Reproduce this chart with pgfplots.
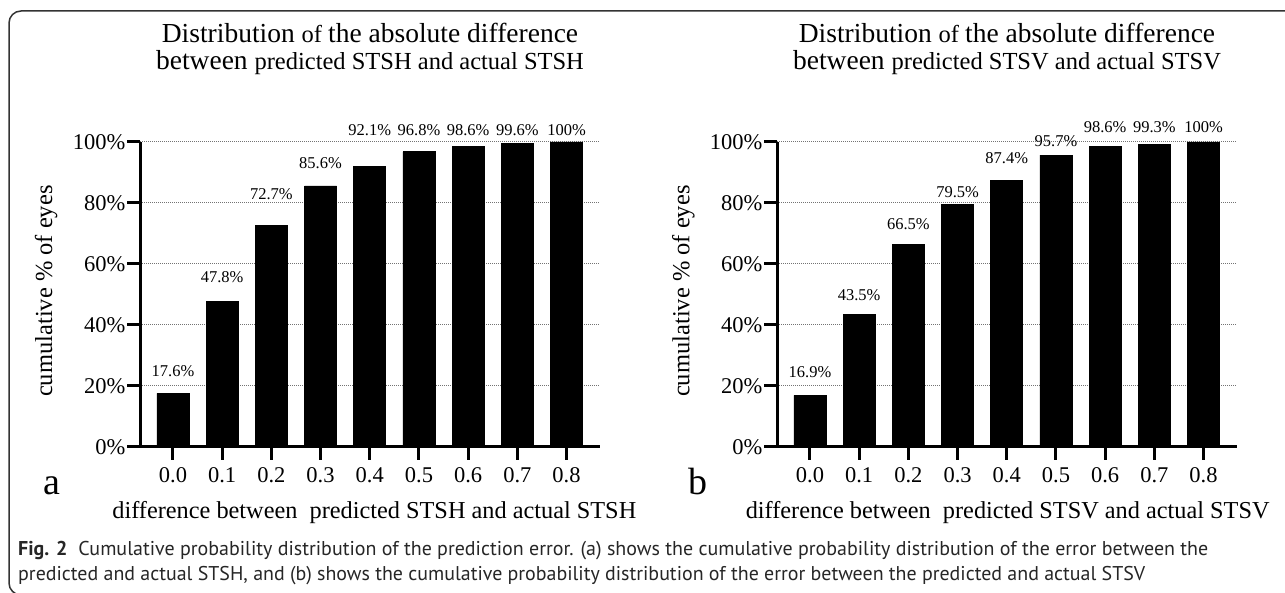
\documentclass[border=0pt]{standalone}
\usepackage{fontspec}
\setmainfont{Liberation Serif}
\newfontfamily\capfont{PT Sans}
\usepackage{graphicx}
\usepackage{pgfplots}
\pgfplotsset{compat=1.18}

\newcommand\tA{\fontsize{27.5pt}{33pt}\selectfont}
\newcommand\tB{\fontsize{24.5pt}{29pt}\selectfont}
\newcommand\vl{\fontsize{16.5pt}{19pt}\selectfont}

\pgfplotsset{
  mybars/.style={
    scale only axis, width=459.5pt, height=305pt, anchor=south west,
    xmin=-0.67, xmax=8.67, ymin=0, ymax=100,
    axis lines=left, axis line style={line width=3pt, -},
    xtick={0,...,8}, xticklabels={0.0,0.1,0.2,0.3,0.4,0.5,0.6,0.7,0.8},
    ytick={0,20,...,100}, yticklabels={0\%,20\%,40\%,60\%,80\%,100\%},
    tick align=outside, major tick length=13pt,
    tick style={line width=3pt, black},
    ymajorgrids, grid style={black!55, line width=1pt, dash pattern=on 1pt off 1pt},
    ticklabel style={font=\fontsize{22.5pt}{26pt}\selectfont},
    xticklabel style={yshift=-4pt},
    yticklabel style={xshift=2pt},
    ylabel={cumulative \% of eyes},
    ylabel style={at={(axis description cs:-0.204,0.511)}, anchor=center, font=\fontsize{24.5pt}{29pt}\selectfont},
    clip=false,
  }
}

\begin{document}
\begin{tikzpicture}[x=1pt,y=1pt]
\useasboundingbox (0pt,0pt) rectangle (1285pt,593pt);
\fill[white] (0pt,0pt) rectangle (1285pt,593pt);
\draw[line width=1.5pt, black!80, rounded corners=12pt] (1300pt,582pt) -- (9pt,582pt) -- (9pt,-2pt) -- (40pt,-2pt);

% titles
\node[anchor=base, inner sep=0] at (370pt,550pt) {\tA Distribution \tB of \tA the absolute difference};
\node[anchor=base, inner sep=0] at (370pt,523.5pt) {\tA between \tB predicted STSH and actual STSH};
\node[anchor=base, inner sep=0] at (1007pt,550pt) {\tA Distribution \tB of \tA the absolute difference};
\node[anchor=base, inner sep=0] at (1007pt,523.5pt) {\tA between \tB predicted STSV and actual STSV};

% panel letters
\node[anchor=base, inner sep=0] at (52pt,98pt) {\fontsize{38pt}{44pt}\selectfont a};
\node[anchor=base, inner sep=0] at (698pt,98pt) {\fontsize{38pt}{44pt}\selectfont b};

\begin{axis}[mybars, at={(140pt,146pt)},
  xlabel={difference between\ \ predicted STSH and actual STSH},
  xlabel style={at={(axis description cs:0.51,-0.235)}, anchor=base, inner sep=0pt, font=\fontsize{24.3pt}{29pt}\selectfont}]
\addplot[ybar, bar width=32pt, fill=black, draw=black, line width=0.8pt]
  coordinates {(0,17.6) (1,47.8) (2,72.7) (3,85.6) (4,92.1) (5,96.8) (6,98.6) (7,99.6) (8,100)};
\node[font=\vl, inner sep=0] at (axis cs:0,24.9) {17.6\%};
\node[font=\vl, inner sep=0] at (axis cs:1,55.7) {47.8\%};
\node[font=\vl, inner sep=0] at (axis cs:2,83.0) {72.7\%};
\node[font=\vl, inner sep=0] at (axis cs:3,93.1) {85.6\%};
\node[font=\vl, inner sep=0] at (axis cs:4,103.9) {92.1\%};
\node[font=\vl, inner sep=0] at (axis cs:5,103.9) {96.8\%};
\node[font=\vl, inner sep=0] at (axis cs:6,103.9) {98.6\%};
\node[font=\vl, inner sep=0] at (axis cs:7,103.9) {99.6\%};
\node[font=\vl, inner sep=0] at (axis cs:8,103.9) {100\%};
\end{axis}

\begin{axis}[mybars, at={(777pt,146pt)},
  xlabel={difference between\ \ predicted STSV and actual STSV},
  xlabel style={at={(axis description cs:0.502,-0.235)}, anchor=base, inner sep=0pt, font=\fontsize{24.3pt}{29pt}\selectfont}]
\addplot[ybar, bar width=32pt, fill=black, draw=black, line width=0.8pt]
  coordinates {(0,16.9) (1,43.5) (2,66.5) (3,79.5) (4,87.4) (5,95.7) (6,98.6) (7,99.3) (8,100)};
\node[font=\vl, inner sep=0] at (axis cs:0,24.6) {16.9\%};
\node[font=\vl, inner sep=0] at (axis cs:1,49.8) {43.5\%};
\node[font=\vl, inner sep=0] at (axis cs:2,73.1) {66.5\%};
\node[font=\vl, inner sep=0] at (axis cs:3,83.6) {79.5\%};
\node[font=\vl, inner sep=0] at (axis cs:4,94.8) {87.4\%};
\node[font=\vl, inner sep=0] at (axis cs:5,100.3) {95.7\%};
\node[font=\vl, inner sep=0] at (axis cs:6,104.9) {98.6\%};
\node[font=\vl, inner sep=0] at (axis cs:7,104.9) {99.3\%};
\node[font=\vl, inner sep=0] at (axis cs:8,104.9) {100\%};
\end{axis}

% caption
\node[anchor=base west, inner sep=0, text=black!85] at (18pt,37pt) {\resizebox{1190pt}{!}{\capfont\fontsize{17.5pt}{20pt}\selectfont \textbf{Fig. 2}\hspace{0.55em}Cumulative probability distribution of the prediction error. (a) shows the cumulative probability distribution of the error between the}};
\node[anchor=base west, inner sep=0, text=black!85] at (18pt,12pt) {\resizebox{1127pt}{!}{\capfont\fontsize{17.5pt}{20pt}\selectfont predicted and actual STSH, and (b) shows the cumulative probability distribution of the error between the predicted and actual STSV}};
\end{tikzpicture}
\end{document}
